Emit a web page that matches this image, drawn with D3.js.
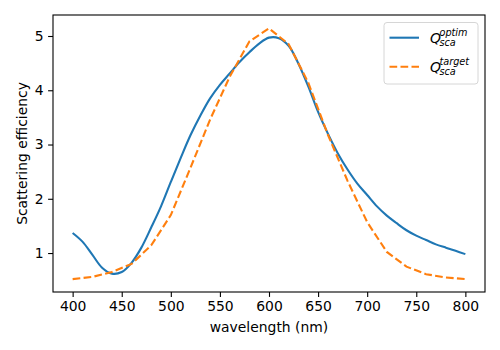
<!DOCTYPE html>
<html>
<head>
<meta charset="utf-8">
<script src="https://cdn.jsdelivr.net/npm/d3@7"></script>
<style>
  body { margin: 0; background: #fff; }
  text { font-family: "DejaVu Sans", sans-serif; }
</style>
</head>
<body>
<svg id="chart" width="500" height="350"></svg>
<script>
// optimised spectrum, every 10 nm
const optimWl = d3.range(400, 801, 10);
const optimQ = [
  1.37, 1.21, 0.97, 0.73, 0.62, 0.65, 0.82, 1.10, 1.47, 1.86,
  2.31, 2.75, 3.17, 3.53, 3.85, 4.10, 4.31, 4.52, 4.70, 4.86,
  4.97, 4.96, 4.82, 4.49, 4.07, 3.60, 3.20, 2.84, 2.54, 2.28,
  2.07, 1.86, 1.69, 1.55, 1.42, 1.32, 1.24, 1.16, 1.10, 1.04,
  0.98
];
// target spectrum, every 20 nm
const targetWl = d3.range(400, 801, 20);
const targetQ = [
  0.52, 0.56, 0.65, 0.80, 1.14, 1.70, 2.57, 3.46, 4.25, 4.90,
  5.14, 4.85, 4.14, 3.18, 2.33, 1.57, 1.02, 0.75, 0.61, 0.55,
  0.52
];
const xTicks = [400, 450, 500, 550, 600, 650, 700, 750, 800];
const yTicks = [1, 2, 3, 4, 5];

const svg = d3.select("#chart");
const margin = { top: 15, right: 15, bottom: 58, left: 53 };
const width = 500, height = 350;
const fs = "13.9px";

const x = d3.scaleLinear()
  .domain([380, 820])
  .range([margin.left, width - margin.right]);

const y = d3.scaleLinear()
  .domain([0.282, 5.387])
  .range([height - margin.bottom, margin.top]);

// x axis
const xAxis = svg.append("g")
  .attr("transform", `translate(0,${height - margin.bottom})`)
  .call(d3.axisBottom(x).tickValues(xTicks).tickSize(4.9).tickPadding(4.5).tickFormat(d3.format("d")));

// y axis
const yAxis = svg.append("g")
  .attr("transform", `translate(${margin.left},0)`)
  .call(d3.axisLeft(y).tickValues(yTicks).tickSize(4.9).tickPadding(4.5).tickFormat(d3.format("d")));

[xAxis, yAxis].forEach(g => {
  g.select(".domain").remove();
  g.selectAll("line").attr("stroke", "#000").attr("stroke-width", 1.1);
  g.selectAll("text").attr("fill", "#000").style("font-size", fs)
    .style("font-family", "DejaVu Sans");
});

// lines
const optimLine = d3.line()
  .x((d, i) => x(optimWl[i]))
  .y(d => y(d))
  .curve(d3.curveCatmullRom);

const targetLine = d3.line()
  .x((d, i) => x(targetWl[i]))
  .y(d => y(d));

svg.append("path")
  .datum(optimQ)
  .attr("fill", "none")
  .attr("stroke", "#1f77b4")
  .attr("stroke-width", 2.1)
  .attr("d", optimLine);

svg.append("path")
  .datum(targetQ)
  .attr("fill", "none")
  .attr("stroke", "#ff7f0e")
  .attr("stroke-width", 2.1)
  .attr("stroke-dasharray", "7.7,3.3")
  .attr("d", targetLine);

// frame
svg.append("rect")
  .attr("x", margin.left)
  .attr("y", margin.top)
  .attr("width", width - margin.left - margin.right)
  .attr("height", height - margin.top - margin.bottom)
  .attr("fill", "none")
  .attr("stroke", "#000")
  .attr("stroke-width", 1.1);

// axis labels
svg.append("text")
  .attr("x", (margin.left + width - margin.right) / 2)
  .attr("y", 332)
  .attr("text-anchor", "middle")
  .style("font-size", fs)
  .text("wavelength (nm)");

svg.append("text")
  .attr("transform", `translate(27,${(margin.top + height - margin.bottom) / 2}) rotate(-90)`)
  .attr("text-anchor", "middle")
  .style("font-size", fs)
  .text("Scattering efficiency");

// legend
const legend = svg.append("g").attr("transform", "translate(384,22.5)");
legend.append("rect")
  .attr("width", 94)
  .attr("height", 61.5)
  .attr("rx", 3)
  .attr("fill", "#fff")
  .attr("fill-opacity", 0.8)
  .attr("stroke", "#d6d6d6")
  .attr("stroke-width", 1);

const entries = [
  { sup: "optim", color: "#1f77b4", dash: null, y: 15.2 },
  { sup: "target", color: "#ff7f0e", dash: "7.7,3.3", y: 44.2 }
];
entries.forEach(e => {
  legend.append("line")
    .attr("x1", 5.5).attr("x2", 35)
    .attr("y1", e.y).attr("y2", e.y)
    .attr("stroke", e.color)
    .attr("stroke-width", 2.1)
    .attr("stroke-dasharray", e.dash);
  const t = legend.append("text")
    .attr("x", 46)
    .attr("y", e.y + 5.5)
    .style("font-size", fs)
    .style("font-style", "italic");
  t.append("tspan").text("Q");
  t.append("tspan").attr("x", 55.5).attr("dy", -7).style("font-size", "9.7px").text(e.sup);
  t.append("tspan").attr("x", 55.5).attr("dy", 9.5).style("font-size", "9.7px").text("sca");
});
</script>
</body>
</html>
